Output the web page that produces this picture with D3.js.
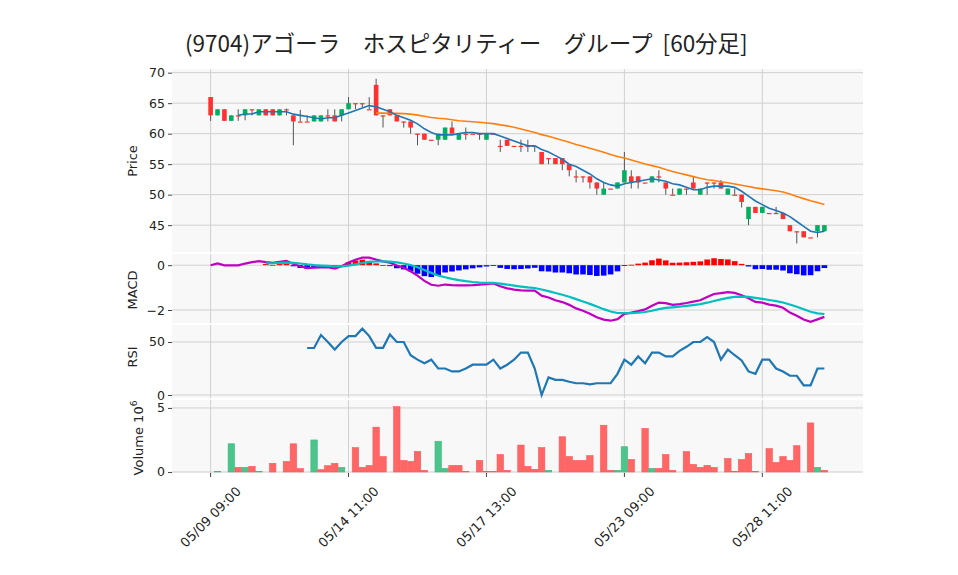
<!DOCTYPE html>
<html><head><meta charset="utf-8">
<script src="https://cdn.jsdelivr.net/npm/d3@7"></script>
<style>
body{margin:0;background:#fff;font-family:"DejaVu Sans","Noto Sans CJK JP",sans-serif;}
text{fill:#222;}
</style></head>
<body><svg id="c" width="958" height="575"></svg>
<script>
// 60-minute candles, 90 bars
const opens  = [66,63,64,62.1,63,63,64,63,64,64,63,64,63,62,62,62,62,63,63,63,64,65,65,64,68,63,64,63,62,62,60,60,59,59,59,61,59,60,60,60,59,60,58,59,58,58,58,58,57,56,56,56,55,53,53,53,52,50,51,51,52,53,53,52,52,53,52,50,50,51,52,50,52,52,52,50,50,50,46,48,47,47,47,47,45,44,44,43,44,44];
const highs  = [66,64,64,63,64,64,64,64,64,64,64,64.1,63,63.9,63,63,63,64,64,64,66,65,65,66,69,63,64,63,62,62,60,60,59,60,61,62,60,61,60,60,60,60,59,59,58,59,59,58,57,56,56,56,55,54,53,53,52,52,51,52,57,54,53,52,53,54,52,51,51,51,53,51,52,52,52.4,51,51,50,48,48,48,47,48,47,45,44,44,43,45,45];
const lows   = [62.1,63,62.1,62.1,62.1,62.2,63,63,63,63,63,63,58.1,62,62,62,62,62,62,62,64,64,64.3,64,63,61,63,62,61,60,58.1,59,59,58.1,59,60,59,59,60,59,59,60,57,58,58,57,57,57,55,55,55,54,53,52,52,51,50,50,51,51,52,51,51,52,52,52,50,50,50,50,51,50,50,51,51,50,50,47.9,45,47,47,47,47,46,44,42,43,43,43,44];
const closes = [63,64,62.1,63,63,64,64,64,63,63,64,64,62,62,62,63,63,63,62,64,65,65,65,64,63,63,63,62,62,61,60,59,59,60,61,60,60,60,60,60,60,60,58,58,58,58,58,58,55,56,55,55,54,53,53,52,51,51,51,52,54,52,52,52,53,53,51,50,51,51,51,51,52,52,51,51,50,48.8,48,47,48,47,47,46,44,44,43,43,45,45];
// volume in millions
const volumes = [0,0.05,0,2.2,0.36,0.36,0.44,0.05,0,0.67,0,0.82,2.2,0.26,0,2.5,0.18,0.49,0.67,0.36,0,1.9,0.36,0.51,3.5,1.2,0,5.1,0.9,0.82,1.6,0.13,0,2.4,0.28,0.51,0.51,0.05,0,0.9,0.05,0.05,1.36,0.13,0,2.1,0.44,0.21,1.9,0.13,0,2.75,1.2,0.9,0.9,1.28,0,3.65,0.13,0.13,1.97,0.97,0,3.4,0.28,0.28,1.36,0.13,0,1.59,0.59,0.36,0.51,0.36,0,1.05,0.05,0.97,1.44,0.05,0,1.82,0.74,1.2,0.9,2.05,0,3.83,0.36,0.13];
// bars whose volume is drawn green
const volUpIdx = [1,3,5,7,15,19,33,34,49,59,60,64,88];
const tickIdx = [0,20,40,60,80];
const tickLabels = ["05/09 09:00","05/14 11:00","05/17 13:00","05/23 09:00","05/28 11:00"];
const titleText = "(9704)アゴーラ　ホスピタリティー　グループ\u00a0\u00a0[60分足]";

const UP = "#00b060", DN = "#ff3030";
const svg = d3.select("#c");
const L = 172, R = 863;
const n = closes.length;
const x = d3.scaleLinear().domain([-5.6, n + 4.6]).range([L, R]);
const bw = 4.6;

// indicators
function sma(a, p){ return a.map((v,i)=> i < p-1 ? null : d3.mean(a.slice(i-p+1, i+1))); }
function ema(a, p){ const k = 2/(p+1); let out = []; let e = null;
  a.forEach((v,i)=>{ if(v==null){out.push(null);return;} e = e==null ? v : v*k + e*(1-k); out.push(e); }); return out; }
const ma5 = sma(closes, 5), ma25 = sma(closes, 25);
const e12 = ema(closes, 12), e26 = ema(closes, 26);
const macd = closes.map((c,i)=> e12[i]-e26[i]);
const sigRaw = ema(macd, 9);
const signal = sigRaw.map((v,i)=> i < 8 ? null : v);
const hist = macd.map((v,i)=> signal[i]==null ? null : v - signal[i]);
const rsi = closes.map((c,i)=>{
  if(i < 14) return null;
  let g=0,l=0;
  for(let j=i-13;j<=i;j++){ const d = closes[j]-closes[j-1]; if(d>0) g+=d; else l-=d; }
  return g+l===0 ? 50 : 100*g/(g+l);
});

// panels
const panels = [
  {name:"Price", top:69, bot:252, dom:[40.6,70.6], ticks:[45,50,55,60,65,70]},
  {name:"MACD", top:254, bot:323, dom:[-2.58,0.5], ticks:[-2,0]},
  {name:"RSI", top:325, bot:398, dom:[-2.8,66], ticks:[0,50]},
  {name:"Volume", top:400, bot:473, dom:[-0.08,5.62], ticks:[0,5]}
];
panels.forEach(p=>{
  p.y = d3.scaleLinear().domain(p.dom).range([p.bot, p.top]);
  svg.append("rect").attr("x",L).attr("y",p.top).attr("width",R-L).attr("height",p.bot-p.top).attr("fill","#f8f8f8");
  const g = svg.append("g");
  p.ticks.forEach(t=>{
    g.append("line").attr("x1",L).attr("x2",R).attr("y1",p.y(t)).attr("y2",p.y(t)).attr("stroke","#d0d0d0").attr("stroke-width",1);
  });
  tickIdx.forEach(i=>{
    g.append("line").attr("x1",x(i)).attr("x2",x(i)).attr("y1",p.top).attr("y2",p.bot).attr("stroke","#d0d0d0");
  });
  const ax = svg.append("g").attr("transform",`translate(${L},0)`)
    .call(d3.axisLeft(p.y).tickValues(p.ticks).tickSize(4).tickFormat(d=> d<0 ? "−"+Math.abs(d) : d));
  ax.select(".domain").remove();
  ax.selectAll(".tick line").attr("stroke","#444");
  ax.selectAll("text").attr("font-size",12.5).attr("fill","#222").attr("font-family","DejaVu Sans");
});
const [P, M, Rs, V] = panels;
// nudge the touching RSI "0" / volume "5" labels apart
svg.selectAll("g.tick text").filter(function(){ return false; });

// axis labels
function ylab(txt, yc){
  svg.append("text").attr("transform",`translate(137,${yc}) rotate(-90)`).attr("text-anchor","middle")
    .attr("font-size",13).text(txt);
}
ylab("Price", 161); ylab("MACD", 290); ylab("RSI", 357);
const vl = svg.append("text").attr("transform",`translate(143,438) rotate(-90)`).attr("text-anchor","middle").attr("font-size",13);
vl.append("tspan").text("Volume  10");
vl.append("tspan").attr("font-size",9).attr("dy",-6).text("6");

// candles
const cg = svg.append("g");
closes.forEach((c,i)=>{
  const o = opens[i];
  cg.append("line").attr("x1",x(i)).attr("x2",x(i)).attr("y1",P.y(highs[i])).attr("y2",P.y(lows[i])).attr("stroke","#555").attr("stroke-width",1);
  const y0 = P.y(Math.max(o,c)), h = Math.max(1.2, Math.abs(P.y(o)-P.y(c)));
  cg.append("rect").attr("x",x(i)-bw/2).attr("y",y0).attr("width",bw).attr("height",h)
    .attr("fill", c > o ? UP : DN);
});
const line = (ys, sc)=> d3.line().defined(d=>d!=null).x((d,i)=>x(i)).y(d=>sc(d))(ys);
svg.append("path").attr("d",line(ma25,P.y)).attr("fill","none").attr("stroke","#ff7f0e").attr("stroke-width",1.6);
svg.append("path").attr("d",line(ma5,P.y)).attr("fill","none").attr("stroke","#1f77b4").attr("stroke-width",1.6);

// MACD
hist.forEach((h,i)=>{
  if(h==null) return;
  const y0 = M.y(0), y1 = M.y(h);
  svg.append("rect").attr("x",x(i)-2.8).attr("width",5.6).attr("y",Math.min(y0,y1)).attr("height",Math.max(0.8,Math.abs(y1-y0)))
    .attr("fill", h >= 0 ? "#ff0000" : "#0000ff");
});
svg.append("path").attr("d",line(macd,M.y)).attr("fill","none").attr("stroke","#c000c0").attr("stroke-width",2.2);
svg.append("path").attr("d",line(signal,M.y)).attr("fill","none").attr("stroke","#00bfbf").attr("stroke-width",2.2);

// RSI
svg.append("path").attr("d",line(rsi,Rs.y)).attr("fill","none").attr("stroke","#1f77b4").attr("stroke-width",2.2);

// volume
volumes.forEach((v,i)=>{
  if(v<=0) return;
  const up = volUpIdx.includes(i);
  svg.append("rect").attr("x",x(i)-3.2).attr("width",6.4).attr("y",V.y(v)).attr("height",V.y(0)-V.y(v))
    .attr("fill", up ? "#4cc48c" : "#ff6666").attr("stroke", up ? "#3bb87c" : "#ff5555").attr("stroke-width",0.6);
});

// x axis
const xa = svg.append("g");
tickIdx.forEach((t,k)=>{
  xa.append("line").attr("x1",x(t)).attr("x2",x(t)).attr("y1",V.bot).attr("y2",V.bot+4).attr("stroke","#444");
  xa.append("text").attr("transform",`translate(${x(t)},${V.bot+44}) rotate(-45)`).attr("text-anchor","middle")
    .attr("dominant-baseline","central").attr("font-size",13).text(tickLabels[k]);
});

// title
svg.append("text").attr("x",185).attr("y",52).attr("font-size",22.5).attr("xml:space","preserve")
  .attr("font-family","'Noto Sans CJK JP','DejaVu Sans',sans-serif").text(titleText);
</script></body></html>
